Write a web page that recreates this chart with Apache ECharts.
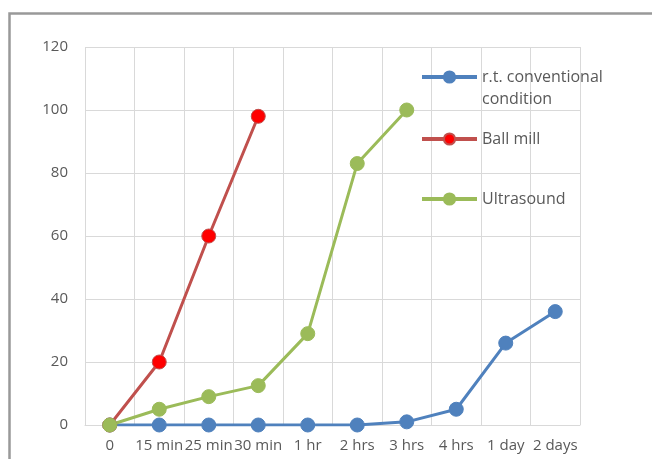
<!DOCTYPE html>
<html>
<head>
<meta charset="utf-8">
<script src="https://cdn.jsdelivr.net/npm/echarts@6/dist/echarts.min.js"></script>
<style>html,body{margin:0;padding:0;background:#fff;}#c{width:652px;height:459px;}</style>
</head>
<body>
<div id="c"></div>
<script>
const categories = ['0', '15 min', '25 min', '30 min', '1 hr', '2 hrs', '3 hrs', '4 hrs', '1 day', '2 days'];
const rtConventional = [0, 0, 0, 0, 0, 0, 1, 5, 26, 36];
const ballMill = [0, 20, 60, 98, null, null, null, null, null, null];
const ultrasound = [0, 5, 9, 12.5, 29, 83, 100, null, null, null];
const yTicks = [0, 20, 40, 60, 80, 100, 120];

const FONT = 'Open Sans';
const TXT = '#595959';
const GRIDC = '#D9D9D9';

const chart = echarts.init(document.getElementById('c'), null, {renderer: 'canvas'});

function series(name, data, lineColor, fill, border) {
  return {
    name: name, type: 'line', data: data,
    symbol: 'circle', symbolSize: 14,
    connectNulls: false,
    lineStyle: {color: lineColor, width: 3},
    itemStyle: {color: fill, borderColor: border, borderWidth: 1},
    emphasis: {disabled: true}
  };
}

function legend(name, top, formatter) {
  const l = {
    data: [name], left: 420, top: top, orient: 'vertical', padding: 0,
    itemWidth: 55, itemHeight: 14,
    lineStyle: {width: 4},
    textStyle: {fontFamily: FONT, fontSize: 16, color: TXT, lineHeight: 22},
    selectedMode: false
  };
  if (formatter) l.formatter = formatter;
  return l;
}

chart.setOption({
  animation: false,
  backgroundColor: '#fff',
  graphic: [{
    type: 'rect', silent: true,
    shape: {x: 9.5, y: 13.5, width: 700, height: 500},
    style: {fill: 'none', stroke: '#999999', lineWidth: 2.5}
  }],
  grid: {left: 85, right: 72, top: 47, bottom: 34, containLabel: false},
  legend: [
    legend('r.t. conventional\ncondition', 44, function (n) { return '\u00a0\n' + n; }),
    legend('Ball mill', 128),
    legend('Ultrasound', 188)
  ],
  xAxis: {
    type: 'category', data: categories, boundaryGap: true,
    axisLine: {lineStyle: {color: GRIDC, width: 1}},
    axisTick: {show: false},
    axisLabel: {fontFamily: FONT, fontSize: 15, color: TXT, margin: 13, interval: 0},
    splitLine: {show: true, interval: 0, lineStyle: {color: GRIDC, width: 1}}
  },
  yAxis: {
    type: 'value', min: yTicks[0], max: yTicks[yTicks.length - 1], interval: 20,
    axisLine: {show: false}, axisTick: {show: false},
    axisLabel: {fontFamily: FONT, fontSize: 15, color: TXT, margin: 17},
    splitLine: {show: true, lineStyle: {color: GRIDC, width: 1}}
  },
  series: [
    series('r.t. conventional\ncondition', rtConventional, '#4F81BD', '#4F81BD', '#4F81BD'),
    series('Ball mill', ballMill, '#C0504D', '#FF0000', '#C0504D'),
    series('Ultrasound', ultrasound, '#9BBB59', '#9BBB59', '#9BBB59')
  ]
});
</script>
</body>
</html>
